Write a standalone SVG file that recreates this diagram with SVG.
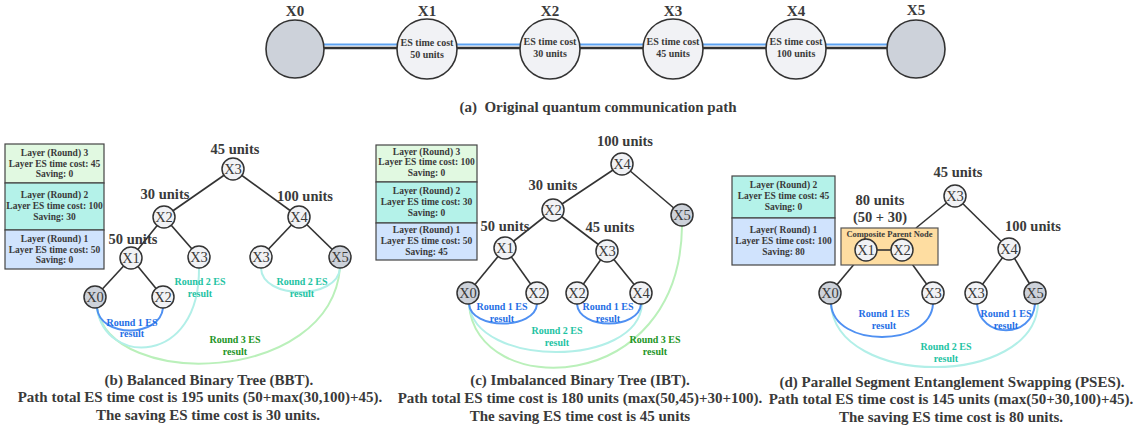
<svg xmlns="http://www.w3.org/2000/svg" width="1134" height="432" viewBox="0 0 1134 432">
<style>
text{font-family:"Liberation Serif","Times New Roman",serif;fill:#3a3a3a;text-anchor:middle}
.b{font-weight:bold}
.top{font-size:15px;font-weight:bold}
.tin{font-size:10px;font-weight:bold}
.cap{font-size:15px;font-weight:bold}
.unit{font-size:14.5px;font-weight:bold}
.lg{font-size:9.5px;font-weight:bold}
.nl{font-size:14.5px}
.rl{font-size:10px;font-weight:bold}
.c1{fill:#1f6fe5}.c2{fill:#1ec3a3}.c3{fill:#23951f}
.bigc{fill:#f1f2f5;stroke:#333;stroke-width:1.6}
.end{fill:#cdd2da}
.n{fill:#f1f2f5;stroke:#333;stroke-width:1.5}
.ng{fill:#cdd2da;stroke:#333;stroke-width:1.5}
.e{stroke:#333;stroke-width:1.6;fill:none}
.a1{stroke:#4f90f2;stroke-width:2;fill:none}
.a2{stroke:#b2efe8;stroke-width:2;fill:none}
.a3{stroke:#baf0ba;stroke-width:2;fill:none}
.lb{stroke:#444;stroke-width:1.2}
.g1{fill:#e1f9e1}.g2{fill:#b4f2e9}.g3{fill:#d0e3fd}
</style>

<!-- (a) original path -->
<g id="path-links">
  <g>
    <line x1="324" y1="48" x2="397" y2="48" stroke="#333" stroke-width="2.5"/>
    <line x1="324" y1="44.5" x2="397" y2="44.5" stroke="#5ea3f2" stroke-width="2"/>
    <line x1="457" y1="48" x2="520" y2="48" stroke="#333" stroke-width="2.5"/>
    <line x1="457" y1="44.5" x2="520" y2="44.5" stroke="#5ea3f2" stroke-width="2"/>
    <line x1="580" y1="48" x2="643" y2="48" stroke="#333" stroke-width="2.5"/>
    <line x1="580" y1="44.5" x2="643" y2="44.5" stroke="#5ea3f2" stroke-width="2"/>
    <line x1="703" y1="48" x2="767" y2="48" stroke="#333" stroke-width="2.5"/>
    <line x1="703" y1="44.5" x2="767" y2="44.5" stroke="#5ea3f2" stroke-width="2"/>
    <line x1="826" y1="48" x2="887" y2="48" stroke="#333" stroke-width="2.5"/>
    <line x1="826" y1="44.5" x2="887" y2="44.5" stroke="#5ea3f2" stroke-width="2"/>
  </g>
</g>
<g id="pX0"><circle class="bigc end" cx="295" cy="49" r="29"/><text class="top" x="295" y="16">X0</text></g>
<g id="pX1"><circle class="bigc" cx="427" cy="49" r="30"/><text class="top" x="427" y="16">X1</text><text class="tin" x="427" y="46">ES time cost</text><text class="tin" x="427" y="58">50 units</text></g>
<g id="pX2"><circle class="bigc" cx="550" cy="49" r="30"/><text class="top" x="550" y="16">X2</text><text class="tin" x="550" y="45">ES time cost</text><text class="tin" x="550" y="57">30 units</text></g>
<g id="pX3"><circle class="bigc" cx="673" cy="49" r="30"/><text class="top" x="673" y="16">X3</text><text class="tin" x="673" y="45">ES time cost</text><text class="tin" x="673" y="57">45 units</text></g>
<g id="pX4"><circle class="bigc" cx="796" cy="49" r="30"/><text class="top" x="796" y="16">X4</text><text class="tin" x="796" y="45">ES time cost</text><text class="tin" x="796" y="57">100 units</text></g>
<g id="pX5"><circle class="bigc end" cx="916" cy="49" r="29"/><text class="top" x="916" y="15">X5</text></g>
<text class="cap" x="598" y="112" xml:space="preserve">(a)  Original quantum communication path</text>

<!-- (b) BBT -->
<g id="b-legend">
  <rect class="g1 lb" x="5" y="144" width="99" height="39"/>
  <rect class="g2 lb" x="5" y="183" width="99" height="47"/>
  <rect class="g3 lb" x="5" y="230" width="99" height="39"/>
  <text class="lg" x="54.5" y="156">Layer (Round) 3</text>
  <text class="lg" x="54.5" y="167">Layer ES time cost: 45</text>
  <text class="lg" x="54.5" y="177">Saving: 0</text>
  <text class="lg" x="54.5" y="198">Layer (Round) 2</text>
  <text class="lg" x="54.5" y="209">Layer ES time cost: 100</text>
  <text class="lg" x="54.5" y="220">Saving: 30</text>
  <text class="lg" x="54.5" y="242">Layer (Round) 1</text>
  <text class="lg" x="54.5" y="253">Layer ES time cost: 50</text>
  <text class="lg" x="54.5" y="263">Saving: 0</text>
</g>
<g id="b-connectors">
  <line class="e" x1="233" y1="169" x2="164" y2="217"/>
  <line class="e" x1="233" y1="169" x2="299" y2="217"/>
  <line class="e" x1="164" y1="217" x2="131" y2="258"/>
  <line class="e" x1="164" y1="217" x2="199" y2="257"/>
  <line class="e" x1="299" y1="217" x2="261" y2="257"/>
  <line class="e" x1="299" y1="217" x2="340" y2="257"/>
  <line class="e" x1="131" y1="258" x2="95" y2="297"/>
  <line class="e" x1="131" y1="258" x2="163" y2="297"/>
  <path class="a3" d="M 97 308 C 110 390, 330 385, 340 268"/>
  <path class="a2" d="M 97 308 C 105 366, 200 366, 199 268"/>
  <path class="a2" d="M 261 268 C 262 300, 338 300, 340 268"/>
  <path class="a1" d="M 97 308 C 100 338, 160 338, 163 308"/>
</g>
<g id="bX3"><circle class="n" cx="233" cy="169" r="11"/><text class="nl" x="233" y="174">X3</text><text class="unit" x="235" y="154">45 units</text></g>
<g id="bX2"><circle class="n" cx="164" cy="217" r="11"/><text class="nl" x="164" y="222">X2</text><text class="unit" x="165" y="199">30 units</text></g>
<g id="bX4"><circle class="n" cx="299" cy="217" r="11"/><text class="nl" x="299" y="222">X4</text><text class="unit" x="305" y="201">100 units</text></g>
<g id="bX1"><circle class="n" cx="131" cy="258" r="11"/><text class="nl" x="131" y="263">X1</text><text class="unit" x="133" y="244">50 units</text></g>
<g id="bX3a"><circle class="n" cx="199" cy="257" r="11"/><text class="nl" x="199" y="262">X3</text></g>
<g id="bX3b"><circle class="n" cx="261" cy="257" r="11"/><text class="nl" x="261" y="262">X3</text></g>
<g id="bX5"><circle class="ng" cx="340" cy="257" r="11"/><text class="nl" x="340" y="262">X5</text></g>
<g id="bX0"><circle class="ng" cx="95" cy="297" r="11"/><text class="nl" x="95" y="302">X0</text></g>
<g id="bX2b"><circle class="n" cx="163" cy="297" r="11"/><text class="nl" x="163" y="302">X2</text></g>
<g id="b-labels">
  <text class="rl c1" x="132" y="326">Round 1 ES</text>
  <text class="rl c1" x="132" y="337">result</text>
  <text class="rl c2" x="200" y="285">Round 2 ES</text>
  <text class="rl c2" x="200" y="297">result</text>
  <text class="rl c2" x="302" y="285">Round 2 ES</text>
  <text class="rl c2" x="302" y="297">result</text>
  <text class="rl c3" x="235" y="343">Round 3 ES</text>
  <text class="rl c3" x="235" y="355">result</text>
</g>
<text class="cap" x="209" y="385">(b) Balanced Binary Tree (BBT).</text>
<text class="cap" x="200" y="402">Path total ES time cost is 195 units (50+max(30,100)+45).</text>
<text class="cap" x="208" y="420">The saving ES time cost is 30 units.</text>

<!-- (c) IBT -->
<g id="c-legend">
  <rect class="g1 lb" x="376" y="145" width="101" height="37"/>
  <rect class="g2 lb" x="376" y="182" width="101" height="41"/>
  <rect class="g3 lb" x="376" y="223" width="101" height="37"/>
  <text class="lg" x="426.5" y="155">Layer (Round) 3</text>
  <text class="lg" x="426.5" y="165">Layer ES time cost: 100</text>
  <text class="lg" x="426.5" y="176">Saving: 0</text>
  <text class="lg" x="426.5" y="194">Layer (Round) 2</text>
  <text class="lg" x="426.5" y="205">Layer ES time cost: 30</text>
  <text class="lg" x="426.5" y="216">Saving: 0</text>
  <text class="lg" x="426.5" y="233">Layer (Round) 1</text>
  <text class="lg" x="426.5" y="244">Layer ES time cost: 50</text>
  <text class="lg" x="426.5" y="255">Saving: 45</text>
</g>
<g id="c-connectors">
  <line class="e" x1="622" y1="164" x2="553" y2="210"/>
  <line class="e" x1="622" y1="164" x2="682" y2="215"/>
  <line class="e" x1="553" y1="210" x2="505" y2="248"/>
  <line class="e" x1="553" y1="210" x2="607" y2="251"/>
  <line class="e" x1="505" y1="248" x2="468" y2="293"/>
  <line class="e" x1="505" y1="248" x2="537" y2="293"/>
  <line class="e" x1="607" y1="251" x2="577" y2="293"/>
  <line class="e" x1="607" y1="251" x2="641" y2="293"/>
  <path class="a3" d="M 469 304 C 475 400, 680 398, 682 226"/>
  <path class="a2" d="M 469 304 C 475 368, 638 368, 642 304"/>
  <path class="a1" d="M 469 304 C 471 330, 535 330, 537 304"/>
  <path class="a1" d="M 577 304 C 579 330, 639 330, 641 304"/>
</g>
<g id="cX4"><circle class="n" cx="622" cy="164" r="11"/><text class="nl" x="622" y="169">X4</text><text class="unit" x="625" y="146">100 units</text></g>
<g id="cX5"><circle class="ng" cx="682" cy="215" r="11"/><text class="nl" x="682" y="220">X5</text></g>
<g id="cX2"><circle class="n" cx="553" cy="210" r="11"/><text class="nl" x="553" y="215">X2</text><text class="unit" x="553" y="190">30 units</text></g>
<g id="cX1"><circle class="n" cx="505" cy="248" r="11"/><text class="nl" x="505" y="253">X1</text><text class="unit" x="505" y="231">50 units</text></g>
<g id="cX3"><circle class="n" cx="607" cy="251" r="11"/><text class="nl" x="607" y="256">X3</text><text class="unit" x="610" y="232">45 units</text></g>
<g id="cX0"><circle class="ng" cx="468" cy="293" r="11"/><text class="nl" x="468" y="298">X0</text></g>
<g id="cX2b"><circle class="n" cx="537" cy="293" r="11"/><text class="nl" x="537" y="298">X2</text></g>
<g id="cX2c"><circle class="n" cx="577" cy="293" r="11"/><text class="nl" x="577" y="298">X2</text></g>
<g id="cX4b"><circle class="n" cx="641" cy="293" r="11"/><text class="nl" x="641" y="298">X4</text></g>
<g id="c-labels">
  <text class="rl c1" x="502" y="310">Round 1 ES</text>
  <text class="rl c1" x="502" y="322">result</text>
  <text class="rl c1" x="608" y="310">Round 1 ES</text>
  <text class="rl c1" x="608" y="322">result</text>
  <text class="rl c2" x="557" y="334">Round 2 ES</text>
  <text class="rl c2" x="557" y="346">result</text>
  <text class="rl c3" x="655" y="343">Round 3 ES</text>
  <text class="rl c3" x="655" y="355">result</text>
</g>
<text class="cap" x="580" y="385">(c) Imbalanced Binary Tree (IBT).</text>
<text class="cap" x="580" y="403">Path total ES time cost is 180 units (max(50,45)+30+100).</text>
<text class="cap" x="580" y="421">The saving ES time cost is 45 units</text>

<!-- (d) PSES -->
<g id="d-legend">
  <rect class="g2 lb" x="732" y="176" width="103" height="42"/>
  <rect class="g3 lb" x="732" y="218" width="103" height="47"/>
  <text class="lg" x="783.5" y="188">Layer (Round) 2</text>
  <text class="lg" x="783.5" y="199">Layer ES time cost: 45</text>
  <text class="lg" x="783.5" y="210">Saving: 0</text>
  <text class="lg" x="783.5" y="233">Layer( Round) 1</text>
  <text class="lg" x="783.5" y="244">Layer ES time cost: 100</text>
  <text class="lg" x="783.5" y="255">Saving: 80</text>
</g>
<g id="d-connectors">
  <line class="e" x1="955" y1="196" x2="916" y2="228"/>
  <line class="e" x1="955" y1="196" x2="1009" y2="249"/>
  <line class="e" x1="1009" y1="249" x2="976" y2="293"/>
  <line class="e" x1="1009" y1="249" x2="1035" y2="293"/>
  <line class="e" x1="866" y1="250" x2="830" y2="293"/>
  <line class="e" x1="902" y1="250" x2="933" y2="293"/>
  <path class="a2" d="M 831 304 C 836 388, 1034 388, 1038 304"/>
  <path class="a1" d="M 831 304 C 834 348, 930 348, 933 304"/>
  <path class="a1" d="M 977 304 C 980 339, 1032 339, 1035 304"/>
</g>
<g id="dComposite">
  <rect x="841" y="228" width="97" height="37" fill="#fedda1" stroke="#555" stroke-width="1.2"/>
  <text class="b" x="889.5" y="237" style="font-size:8.5px">Composite Parent Node</text>
  <line class="e" x1="877" y1="250" x2="891" y2="250"/>
  <text class="unit" x="880" y="205">80 units</text>
  <text class="unit" x="880" y="222">(50 + 30)</text>
</g>
<g id="dX1"><circle class="n" cx="866" cy="250" r="11"/><text class="nl" x="866" y="255">X1</text></g>
<g id="dX2"><circle class="n" cx="902" cy="250" r="11"/><text class="nl" x="902" y="255">X2</text></g>
<g id="dX3"><circle class="n" cx="955" cy="196" r="11"/><text class="nl" x="955" y="201">X3</text><text class="unit" x="958" y="177">45 units</text></g>
<g id="dX4"><circle class="n" cx="1009" cy="249" r="11"/><text class="nl" x="1009" y="254">X4</text><text class="unit" x="1033" y="231">100 units</text></g>
<g id="dX0"><circle class="ng" cx="830" cy="293" r="11"/><text class="nl" x="830" y="298">X0</text></g>
<g id="dX3a"><circle class="n" cx="933" cy="293" r="11"/><text class="nl" x="933" y="298">X3</text></g>
<g id="dX3b"><circle class="n" cx="976" cy="293" r="11"/><text class="nl" x="976" y="298">X3</text></g>
<g id="dX5"><circle class="ng" cx="1035" cy="293" r="11"/><text class="nl" x="1035" y="298">X5</text></g>
<g id="d-labels">
  <text class="rl c1" x="884" y="317">Round 1 ES</text>
  <text class="rl c1" x="884" y="329">result</text>
  <text class="rl c1" x="1006" y="317">Round 1 ES</text>
  <text class="rl c1" x="1006" y="329">result</text>
  <text class="rl c2" x="946" y="350">Round 2 ES</text>
  <text class="rl c2" x="946" y="362">result</text>
</g>
<text class="cap" x="952" y="387">(d) Parallel Segment Entanglement Swapping (PSES).</text>
<text class="cap" x="951" y="404">Path total ES time cost is 145 units (max(50+30,100)+45).</text>
<text class="cap" x="951" y="422">The saving ES time cost is 80 units.</text>
</svg>
